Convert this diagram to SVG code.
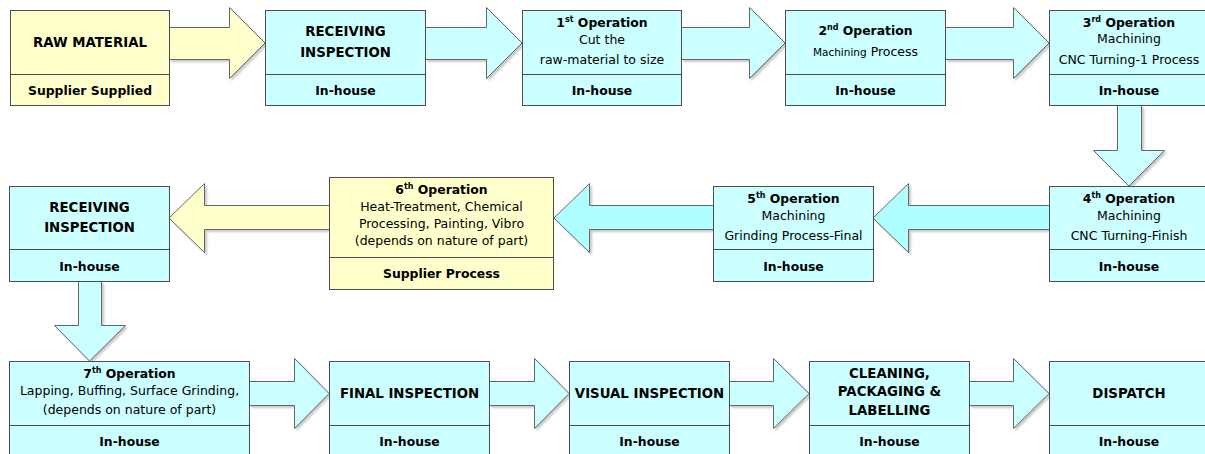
<svg xmlns="http://www.w3.org/2000/svg" width="1205" height="454" viewBox="0 0 1205 454">
  <defs>
    <filter id="sh" x="-10%" y="-10%" width="130%" height="130%">
      <feDropShadow dx="2" dy="2" stdDeviation="1" flood-color="#000" flood-opacity="0.22"/>
    </filter>
  </defs>
  <style>
    .cy { fill: #CCFFFF; stroke: #4D4D4D; stroke-width: 1; }
    .yl { fill: #FFFFCC; stroke: #4D4D4D; stroke-width: 1; }
    .div { stroke: #4D4D4D; stroke-width: 1; }
    .ac { fill: #CCFFFF; stroke: #666; stroke-width: 1; filter: url(#sh); }
    .ac2 { fill: #AFFFFF; stroke: #666; stroke-width: 1; filter: url(#sh); }
    .ay { fill: #FFFFCC; stroke: #666; stroke-width: 1; filter: url(#sh); }
    text { font-family: "DejaVu Sans", Verdana, sans-serif; fill: #000; text-anchor: middle; }
    .b { font-size: 12.4px; font-weight: bold; }
    .bc { font-size: 13.3px; font-weight: bold; }
    .r { font-size: 12.5px; }
    .s { font-size: 10.5px; }
    .sup { font-size: 8px; font-weight: bold; }
  </style>

  <!-- connectors -->
  <g id="connectors">
    <!-- row 1, left to right -->
    <polygon class="ay" points="169.5,27.5 229.5,27.5 229.5,7.5 265,43 229.5,78.5 229.5,59.5 169.5,59.5"/>
    <polygon class="ac" points="425.5,27.5 486.5,27.5 486.5,7.5 522,43 486.5,78.5 486.5,59.5 425.5,59.5"/>
    <polygon class="ac" points="681.5,27.5 749.5,27.5 749.5,7.5 785,43 749.5,78.5 749.5,59.5 681.5,59.5"/>
    <polygon class="ac" points="945.5,27.5 1013.5,27.5 1013.5,7.5 1049,43 1013.5,78.5 1013.5,59.5 945.5,59.5"/>
    <!-- down to 4th operation -->
    <polygon class="ac" points="1117.5,105.5 1141.5,105.5 1141.5,150.5 1164.5,150.5 1129,186 1093.5,150.5 1117.5,150.5"/>
    <!-- row 2, right to left -->
    <polygon class="ac2" points="1049.5,205.5 908.5,205.5 908.5,183.5 873,218 908.5,252.5 908.5,229.5 1049.5,229.5"/>
    <polygon class="ac2" points="713.5,205.5 589.5,205.5 589.5,183.5 554,218 589.5,252.5 589.5,229.5 713.5,229.5"/>
    <polygon class="ay" points="329.5,205.5 204.5,205.5 204.5,183.5 169,218 204.5,252.5 204.5,229.5 329.5,229.5"/>
    <!-- down to 7th operation -->
    <polygon class="ac" points="78.5,281.5 101.5,281.5 101.5,325.5 125.5,325.5 89.5,361 54.5,325.5 78.5,325.5"/>
    <!-- row 3, left to right -->
    <polygon class="ac" points="249.5,381.5 294.5,381.5 294.5,358.5 329,393.5 294.5,428.5 294.5,405.5 249.5,405.5"/>
    <polygon class="ac" points="489.5,381.5 534.5,381.5 534.5,358.5 569,393.5 534.5,428.5 534.5,405.5 489.5,405.5"/>
    <polygon class="ac" points="729.5,381.5 773.5,381.5 773.5,358.5 809,393.5 773.5,428.5 773.5,405.5 729.5,405.5"/>
    <polygon class="ac" points="969.5,381.5 1013.5,381.5 1013.5,358.5 1049,393.5 1013.5,428.5 1013.5,405.5 969.5,405.5"/>
  </g>

  <!-- row 1 -->
  <g id="raw-material">
    <rect class="yl" x="10.5" y="10.5" width="159" height="95"/>
    <line class="div" x1="10.5" y1="74.5" x2="169.5" y2="74.5"/>
    <text class="bc" x="90" y="47">RAW MATERIAL</text>
    <text class="b" x="90" y="95">Supplier Supplied</text>
  </g>
  <g id="receiving-inspection-1">
    <rect class="cy" x="265.5" y="10.5" width="160" height="95"/>
    <line class="div" x1="265.5" y1="74.5" x2="425.5" y2="74.5"/>
    <text class="bc" x="345.5" y="35.5">RECEIVING</text>
    <text class="bc" x="345.5" y="57">INSPECTION</text>
    <text class="b" x="345.5" y="95">In-house</text>
  </g>
  <g id="op-1">
    <rect class="cy" x="522.5" y="10.5" width="159" height="95"/>
    <line class="div" x1="522.5" y1="74.5" x2="681.5" y2="74.5"/>
    <text class="b" x="602" y="27">1<tspan class="sup" dy="-5">st</tspan><tspan dy="5"> Operation</tspan></text>
    <text class="r" x="602" y="44">Cut the</text>
    <text class="r" x="602" y="64">raw-material to size</text>
    <text class="b" x="602" y="95">In-house</text>
  </g>
  <g id="op-2">
    <rect class="cy" x="785.5" y="10.5" width="160" height="95"/>
    <line class="div" x1="785.5" y1="74.5" x2="945.5" y2="74.5"/>
    <text class="b" x="865.5" y="35">2<tspan class="sup" dy="-5">nd</tspan><tspan dy="5"> Operation</tspan></text>
    <text class="r" x="865.5" y="56"><tspan class="s">Machining</tspan> Process</text>
    <text class="b" x="865.5" y="95">In-house</text>
  </g>
  <g id="op-3">
    <rect class="cy" x="1049.5" y="10.5" width="160" height="95"/>
    <line class="div" x1="1049.5" y1="74.5" x2="1209.5" y2="74.5"/>
    <text class="b" x="1129" y="27">3<tspan class="sup" dy="-5">rd</tspan><tspan dy="5"> Operation</tspan></text>
    <text class="r" x="1129" y="43">Machining</text>
    <text class="r" x="1129" y="64">CNC Turning-1 Process</text>
    <text class="b" x="1129" y="95">In-house</text>
  </g>

  <!-- row 2 -->
  <g id="op-4">
    <rect class="cy" x="1049.5" y="186.5" width="160" height="95"/>
    <line class="div" x1="1049.5" y1="249.5" x2="1209.5" y2="249.5"/>
    <text class="b" x="1129" y="203">4<tspan class="sup" dy="-5">th</tspan><tspan dy="5"> Operation</tspan></text>
    <text class="r" x="1129" y="220">Machining</text>
    <text class="r" x="1129" y="240">CNC Turning-Finish</text>
    <text class="b" x="1129" y="271">In-house</text>
  </g>
  <g id="op-5">
    <rect class="cy" x="713.5" y="186.5" width="160" height="95"/>
    <line class="div" x1="713.5" y1="249.5" x2="873.5" y2="249.5"/>
    <text class="b" x="793.5" y="203">5<tspan class="sup" dy="-5">th</tspan><tspan dy="5"> Operation</tspan></text>
    <text class="r" x="793.5" y="220">Machining</text>
    <text class="r" x="793.5" y="240">Grinding Process-Final</text>
    <text class="b" x="793.5" y="271">In-house</text>
  </g>
  <g id="op-6">
    <rect class="yl" x="329.5" y="177.5" width="224" height="112"/>
    <line class="div" x1="329.5" y1="257.5" x2="553.5" y2="257.5"/>
    <text class="b" x="441.5" y="194">6<tspan class="sup" dy="-5">th</tspan><tspan dy="5"> Operation</tspan></text>
    <text class="r" x="441.5" y="211">Heat-Treatment, Chemical</text>
    <text class="r" x="441.5" y="228">Processing, Painting, Vibro</text>
    <text class="r" x="441.5" y="245">(depends on nature of part)</text>
    <text class="b" x="441.5" y="278">Supplier Process</text>
  </g>
  <g id="receiving-inspection-2">
    <rect class="cy" x="9.5" y="186.5" width="160" height="95"/>
    <line class="div" x1="9.5" y1="249.5" x2="169.5" y2="249.5"/>
    <text class="bc" x="89.5" y="212">RECEIVING</text>
    <text class="bc" x="89.5" y="232">INSPECTION</text>
    <text class="b" x="89.5" y="271">In-house</text>
  </g>

  <!-- row 3 -->
  <g id="op-7">
    <rect class="cy" x="9.5" y="361.5" width="240" height="96"/>
    <line class="div" x1="9.5" y1="425.5" x2="249.5" y2="425.5"/>
    <text class="b" x="129.5" y="378">7<tspan class="sup" dy="-5">th</tspan><tspan dy="5"> Operation</tspan></text>
    <text class="r" x="129.5" y="395">Lapping, Buffing, Surface Grinding,</text>
    <text class="r" x="129.5" y="414">(depends on nature of part)</text>
    <text class="b" x="129.5" y="446">In-house</text>
  </g>
  <g id="final-inspection">
    <rect class="cy" x="329.5" y="361.5" width="160" height="96"/>
    <line class="div" x1="329.5" y1="425.5" x2="489.5" y2="425.5"/>
    <text class="bc" x="409.5" y="398">FINAL INSPECTION</text>
    <text class="b" x="409.5" y="446">In-house</text>
  </g>
  <g id="visual-inspection">
    <rect class="cy" x="569.5" y="361.5" width="160" height="96"/>
    <line class="div" x1="569.5" y1="425.5" x2="729.5" y2="425.5"/>
    <text class="bc" x="649.5" y="398">VISUAL INSPECTION</text>
    <text class="b" x="649.5" y="446">In-house</text>
  </g>
  <g id="cleaning-packaging">
    <rect class="cy" x="809.5" y="361.5" width="160" height="96"/>
    <line class="div" x1="809.5" y1="425.5" x2="969.5" y2="425.5"/>
    <text class="bc" x="889.5" y="378">CLEANING,</text>
    <text class="bc" x="889.5" y="396">PACKAGING &amp;</text>
    <text class="bc" x="889.5" y="415">LABELLING</text>
    <text class="b" x="889.5" y="446">In-house</text>
  </g>
  <g id="dispatch">
    <rect class="cy" x="1049.5" y="361.5" width="160" height="96"/>
    <line class="div" x1="1049.5" y1="425.5" x2="1209.5" y2="425.5"/>
    <text class="bc" x="1129" y="398">DISPATCH</text>
    <text class="b" x="1129" y="446">In-house</text>
  </g>
</svg>
